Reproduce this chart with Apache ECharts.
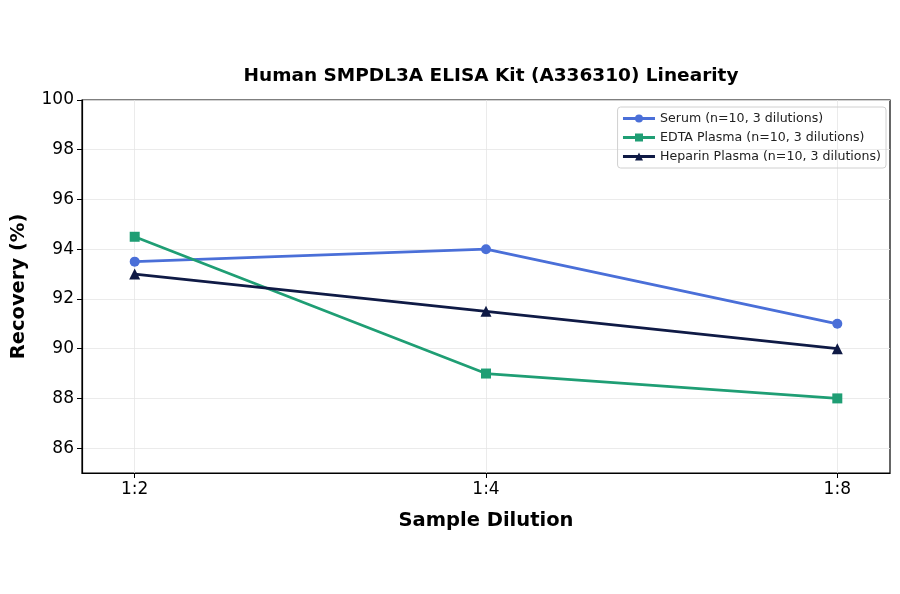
<!DOCTYPE html>
<html lang="en">
<head>
    <meta charset="UTF-8">
    <title>SMPDL3A Linearity</title>
    <script src="https://cdn.jsdelivr.net/npm/echarts@6/dist/echarts.min.js"></script>
    <style>
        html, body {margin: 0; padding: 0; background: #fff;}
        #main {width: 900px; height: 594px;}
    </style>
</head>
<body>
<div id="main"></div>
<script>
    var dilutions = ['1:2', '1:4', '1:8'];
    var serum = [93.5, 94.0, 91.0];
    var edta = [94.5, 89.0, 88.0];
    var heparin = [93.0, 91.5, 90.0];
    var yTicks = [86, 88, 90, 92, 94, 96, 98, 100];

    function pairs(arr) {
        return arr.map(function (v, i) { return [i, v]; });
    }

    var font = 'DejaVu Sans';
    var myChart = echarts.init(document.getElementById('main'));
    var option = {
        animation: false,
        textStyle: {fontFamily: font},
        title: {
            text: 'Human SMPDL3A ELISA Kit (A336310) Linearity',
            left: 486, top: 62, textAlign: 'center',
            textStyle: {fontSize: 18.5, fontWeight: 'bold', color: '#000', fontFamily: font}
        },
        grid: {left: 82, right: 10, top: 100, bottom: 121, show: true, borderColor: '#000', borderWidth: 1.2},
        legend: {
            orient: 'vertical', right: 14, top: 107,
            itemWidth: 32, itemHeight: 10, itemGap: 6,
            padding: [5, 5, 5, 4],
            borderColor: '#d0d0d0', borderWidth: 1, borderRadius: 3,
            lineStyle: {width: 2.8},
            textStyle: {fontSize: 12.6, color: '#222', fontFamily: font}
        },
        xAxis: {
            type: 'value', min: -0.15, max: 2.15,
            name: 'Sample Dilution', nameLocation: 'middle', nameGap: 38,
            nameTextStyle: {fontSize: 19.5, fontWeight: 'bold', color: '#000', fontFamily: font},
            axisLine: {onZero: false, lineStyle: {color: '#000', width: 1.2}},
            axisTick: {show: true, length: 5, customValues: [0, 1, 2], lineStyle: {color: '#000'}},
            axisLabel: {
                customValues: [0, 1, 2], fontSize: 17, color: '#000', margin: 8,
                formatter: function (v) { return dilutions[Math.round(v)]; }
            },
            splitLine: {show: true, lineStyle: {color: '#e6e6e6', width: 0.8}}
        },
        yAxis: {
            type: 'value', min: 85, max: 100,
            name: 'Recovery (%)', nameLocation: 'middle', nameGap: 53,
            nameTextStyle: {fontSize: 19.5, fontWeight: 'bold', color: '#000', fontFamily: font},
            axisLine: {show: true, onZero: false, lineStyle: {color: '#000', width: 1.2}},
            axisTick: {show: true, length: 5, customValues: yTicks, lineStyle: {color: '#000'}},
            axisLabel: {customValues: yTicks, fontSize: 17, color: '#000', margin: 8},
            splitLine: {show: true, lineStyle: {color: '#e6e6e6', width: 0.8}}
        },
        series: [{
            name: 'Serum (n=10, 3 dilutions)', type: 'line', data: pairs(serum),
            symbol: 'circle', symbolSize: 10,
            lineStyle: {width: 2.8, color: '#4a6fd8'}, itemStyle: {color: '#4a6fd8'}
        }, {
            name: 'EDTA Plasma (n=10, 3 dilutions)', type: 'line', data: pairs(edta),
            symbol: 'rect', symbolSize: 10,
            lineStyle: {width: 2.8, color: '#1f9e74'}, itemStyle: {color: '#1f9e74'}
        }, {
            name: 'Heparin Plasma (n=10, 3 dilutions)', type: 'line', data: pairs(heparin),
            symbol: 'triangle', symbolSize: 11,
            lineStyle: {width: 2.8, color: '#0f1a45'}, itemStyle: {color: '#0f1a45'}
        }]
    };
    myChart.setOption(option);
</script>
</body>
</html>
